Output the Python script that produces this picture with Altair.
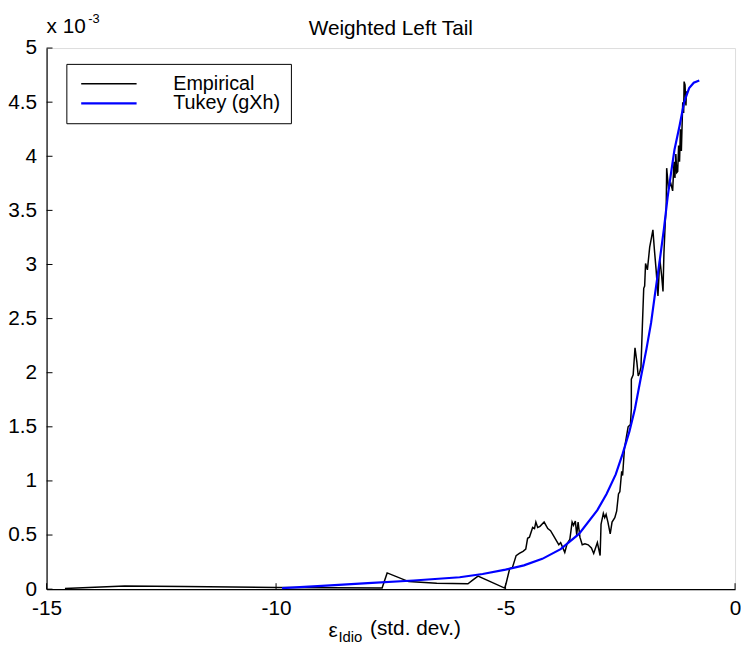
import altair as alt
import pandas as pd

# ---- data (y in units of 1e-3) ----
series_names = ["Empirical", "Tukey (gXh)"]

emp_x = [-14.6, -13.3, -12.0, -10.0, -7.69, -7.58, -7.11, -6.5, -5.82, -5.71, -5.6,
         -5.02, -4.99, -4.91, -4.85, -4.77, -4.70, -4.62, -4.56, -4.52, -4.48, -4.41,
         -4.37, -4.34, -4.30, -4.25, -4.16, -4.08, -4.02, -3.95, -3.88, -3.84, -3.80,
         -3.71, -3.66, -3.60, -3.55, -3.52, -3.48, -3.45, -3.42, -3.38, -3.33, -3.27,
         -3.20, -3.13, -3.08, -3.04, -3.00, -2.94, -2.92, -2.87, -2.84, -2.81, -2.77,
         -2.72, -2.68, -2.62, -2.58, -2.54, -2.51, -2.47, -2.45, -2.41, -2.37, -2.33,
         -2.28, -2.26, -2.26, -2.22, -2.18, -2.14, -2.11, -2.08, -2.05, -2.02, -1.99,
         -1.97, -1.95, -1.91, -1.86, -1.82, -1.79, -1.76, -1.72, -1.68, -1.64, -1.60,
         -1.57, -1.55, -1.52, -1.50, -1.49, -1.45, -1.40, -1.36, -1.33, -1.31, -1.29,
         -1.27, -1.25, -1.23, -1.21, -1.19, -1.17, -1.15, -1.14, -1.12, -1.11, -1.09,
         -1.08, -1.07, -1.06]
emp_y = [0.005, 0.03, 0.025, 0.015, 0.01, 0.15, 0.07, 0.055, 0.05, 0.085, 0.12,
         0.01, 0.05, 0.19, 0.20, 0.31, 0.33, 0.35, 0.37, 0.47, 0.48, 0.57,
         0.56, 0.62, 0.57, 0.58, 0.62, 0.56, 0.54, 0.49, 0.44, 0.41, 0.43,
         0.34, 0.42, 0.46, 0.62, 0.59, 0.63, 0.50, 0.62, 0.48, 0.41, 0.42,
         0.41, 0.38, 0.33, 0.38, 0.43, 0.31, 0.60, 0.70, 0.66, 0.69, 0.62,
         0.51, 0.62, 0.66, 0.72, 0.88, 0.90, 1.09, 1.05, 1.30, 1.40, 1.50,
         1.52, 1.67, 1.94, 1.98, 2.23, 2.10, 1.97, 2.00, 2.05, 2.43, 2.78,
         2.80, 3.01, 2.95, 3.16, 3.25, 3.32, 3.15, 2.95, 2.71, 3.05, 2.90,
         2.75, 3.10, 3.40, 3.53, 3.89, 3.70, 3.75, 3.68, 3.95, 3.80, 4.02,
         3.85, 3.86, 4.10, 3.95, 4.25, 4.05, 4.35, 4.50, 4.40, 4.69, 4.66,
         4.55, 4.47, 4.60]

tuk_x = [-9.87, -9.0, -8.0, -7.0, -6.0, -5.5, -5.0, -4.6, -4.2, -3.8, -3.4, -3.0,
         -2.8, -2.6, -2.45, -2.3, -2.18, -2.05, -1.93, -1.83, -1.75, -1.65, -1.55,
         -1.47, -1.39, -1.32, -1.21, -1.11, -1.0, -0.9, -0.78]
tuk_y = [0.01, 0.03, 0.055, 0.08, 0.11, 0.14, 0.18, 0.22, 0.28, 0.37, 0.51, 0.73,
         0.88, 1.06, 1.25, 1.46, 1.67, 1.96, 2.22, 2.46, 2.71, 3.01, 3.33,
         3.62, 3.86, 4.06, 4.28, 4.50, 4.63, 4.68, 4.70]

x_ticks = [-15, -10, -5, 0]
y_ticks = [0, 0.5, 1, 1.5, 2, 2.5, 3, 3.5, 4, 4.5, 5]

# ---- layout ----
W, H = 696, 547
FONT = "Liberation Sans, Arial, Helvetica, sans-serif"
FS = 21

rows = []
for i, (xv, yv) in enumerate(zip(emp_x, emp_y)):
    rows.append({"x": xv, "y": yv, "series": series_names[0], "i": i})
for i, (xv, yv) in enumerate(zip(tuk_x, tuk_y)):
    rows.append({"x": xv, "y": yv, "series": series_names[1], "i": i})
df = pd.DataFrame(rows)

xs = alt.Scale(domain=[-15, 0], nice=False, zero=False)
ys = alt.Scale(domain=[0, 5], nice=False, zero=False)

x_axis = alt.Axis(values=x_ticks, title=None, ticks=False, tickSize=0,
                  labelExpr="'' + datum.value", labelPadding=9, labelFlush=False,
                  grid=False, domainColor="black", domainWidth=1.2,
                  labelFontSize=FS, labelFont=FONT, labelColor="black")
y_axis = alt.Axis(values=y_ticks, title=None, ticks=False, tickSize=0,
                  labelExpr="'' + datum.value", labelPadding=10, labelFlush=False,
                  grid=False, domainColor="black", domainWidth=1.2,
                  labelFontSize=FS, labelFont=FONT, labelColor="black")

lines = alt.Chart(df).mark_line().encode(
    x=alt.X("x:Q", scale=xs, axis=x_axis),
    y=alt.Y("y:Q", scale=ys, axis=y_axis),
    color=alt.Color("series:N",
                    scale=alt.Scale(domain=series_names, range=["#000000", "#0000ff"]),
                    legend=alt.Legend(title=None, orient="none", legendX=20, legendY=16,
                                      symbolType="M-4,0H4", symbolSize=196,
                                      symbolStrokeWidth=1.5, symbolOffset=23,
                                      labelOffset=55,
                                      labelFontSize=20, labelFont=FONT,
                                      labelColor="black", padding=10, rowPadding=0,
                                      strokeColor="black", fillColor="white",
                                      labelLimit=300)),
    strokeWidth=alt.StrokeWidth("series:N",
                                scale=alt.Scale(domain=series_names, range=[1.5, 2.2]),
                                legend=None),
    order="i:Q",
)

ytick_df = pd.DataFrame({"v": y_ticks})
xtick_df = pd.DataFrame({"v": x_ticks})

yticks = alt.Chart(ytick_df).mark_rule(color="black", strokeWidth=1).encode(
    y=alt.Y("v:Q", scale=ys, axis=y_axis),
    x=alt.value(0), x2=alt.value(6))
xticks = alt.Chart(xtick_df).mark_rule(color="black", strokeWidth=1).encode(
    x=alt.X("v:Q", scale=xs, axis=x_axis),
    y=alt.value(H), y2=alt.value(H - 6))

one = pd.DataFrame({"k": [0]})

def label(text, x, y, size=FS, align="left"):
    return alt.Chart(one).mark_text(text=text, font=FONT, fontSize=size, align=align,
                                    baseline="alphabetic", color="black").encode(
        x=alt.value(x), y=alt.value(y))

title = label("Weighted Left Tail", W / 2, -13, align="center")
mult = label("x 10", 0, -15)
mult_exp = label("-3", 42, -25, size=13)
xl_eps = label("\u03b5", 285, 595)
xl_sub = label("Idio", 295, 600, size=15)
xl_rest = label("(std. dev.)", 327, 593)

chart = alt.layer(
    lines, yticks, xticks, title, mult, mult_exp, xl_eps, xl_sub, xl_rest
).properties(
    width=W, height=H,
    padding={"left": 39, "top": 37, "right": 6, "bottom": 56},
    autosize=alt.AutoSizeParams(type="none"),
).configure_view(stroke=None).configure(background="white")

chart.save("out.html", embed_options={"renderer": "svg", "actions": False})
